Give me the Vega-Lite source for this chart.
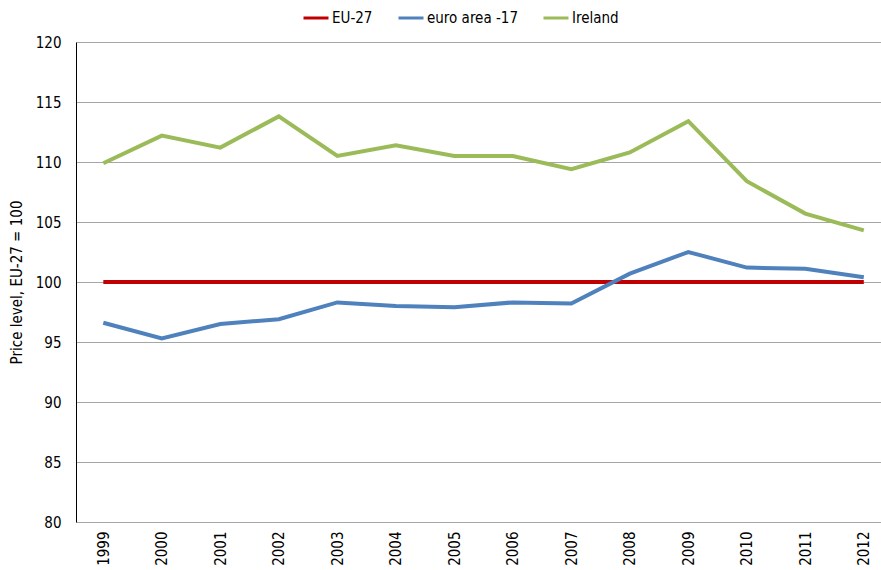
{
  "$schema": "https://vega.github.io/schema/vega-lite/v6.json",
  "width": 805,
  "height": 480,
  "autosize": {"type": "none"},
  "padding": {"left": 76, "top": 42, "right": 0, "bottom": 48},
  "background": "white",
  "config": {
    "view": {"stroke": null},
    "font": "DejaVu Sans Condensed",
    "axis": {"labelFont": "DejaVu Sans Condensed", "titleFont": "DejaVu Sans Condensed", "labelColor": "#000000", "titleColor": "#000000"},
    "legend": {"labelFont": "DejaVu Sans Condensed"}
  },
  "data": {
    "values": [
      {"year": 1999, "series": "EU-27", "value": 100},
      {"year": 2000, "series": "EU-27", "value": 100},
      {"year": 2001, "series": "EU-27", "value": 100},
      {"year": 2002, "series": "EU-27", "value": 100},
      {"year": 2003, "series": "EU-27", "value": 100},
      {"year": 2004, "series": "EU-27", "value": 100},
      {"year": 2005, "series": "EU-27", "value": 100},
      {"year": 2006, "series": "EU-27", "value": 100},
      {"year": 2007, "series": "EU-27", "value": 100},
      {"year": 2008, "series": "EU-27", "value": 100},
      {"year": 2009, "series": "EU-27", "value": 100},
      {"year": 2010, "series": "EU-27", "value": 100},
      {"year": 2011, "series": "EU-27", "value": 100},
      {"year": 2012, "series": "EU-27", "value": 100},
      {"year": 1999, "series": "euro area -17", "value": 96.6},
      {"year": 2000, "series": "euro area -17", "value": 95.3},
      {"year": 2001, "series": "euro area -17", "value": 96.5},
      {"year": 2002, "series": "euro area -17", "value": 96.9},
      {"year": 2003, "series": "euro area -17", "value": 98.3},
      {"year": 2004, "series": "euro area -17", "value": 98.0},
      {"year": 2005, "series": "euro area -17", "value": 97.9},
      {"year": 2006, "series": "euro area -17", "value": 98.3},
      {"year": 2007, "series": "euro area -17", "value": 98.2},
      {"year": 2008, "series": "euro area -17", "value": 100.7},
      {"year": 2009, "series": "euro area -17", "value": 102.5},
      {"year": 2010, "series": "euro area -17", "value": 101.2},
      {"year": 2011, "series": "euro area -17", "value": 101.1},
      {"year": 2012, "series": "euro area -17", "value": 100.4},
      {"year": 1999, "series": "Ireland", "value": 109.9},
      {"year": 2000, "series": "Ireland", "value": 112.2},
      {"year": 2001, "series": "Ireland", "value": 111.2},
      {"year": 2002, "series": "Ireland", "value": 113.8},
      {"year": 2003, "series": "Ireland", "value": 110.5},
      {"year": 2004, "series": "Ireland", "value": 111.4},
      {"year": 2005, "series": "Ireland", "value": 110.5},
      {"year": 2006, "series": "Ireland", "value": 110.5},
      {"year": 2007, "series": "Ireland", "value": 109.4},
      {"year": 2008, "series": "Ireland", "value": 110.8},
      {"year": 2009, "series": "Ireland", "value": 113.4},
      {"year": 2010, "series": "Ireland", "value": 108.4},
      {"year": 2011, "series": "Ireland", "value": 105.7},
      {"year": 2012, "series": "Ireland", "value": 104.3}
    ]
  },
  "mark": {"type": "line", "strokeWidth": 4},
  "encoding": {
    "x": {
      "field": "year",
      "type": "quantitative",
      "scale": {"domain": [1998.533, 2012.294], "nice": false, "zero": false},
      "axis": {
        "values": [1999, 2000, 2001, 2002, 2003, 2004, 2005, 2006, 2007, 2008, 2009, 2010, 2011, 2012],
        "format": "d",
        "labelAngle": -90,
        "labelFontSize": 15,
        "labelPadding": 9,
        "ticks": false,
        "grid": false,
        "domain": false,
        "title": null,
        "labelFlush": false,
        "labelOverlap": false
      }
    },
    "y": {
      "field": "value",
      "type": "quantitative",
      "scale": {"domain": [80, 120], "nice": false, "zero": false},
      "axis": {
        "values": [80, 85, 90, 95, 100, 105, 110, 115, 120],
        "title": "Price level, EU-27 = 100",
        "titleFontSize": 15,
        "titleFontWeight": "normal",
        "titlePadding": 11,
        "labelFontSize": 15,
        "labelPadding": 15,
        "ticks": false,
        "domainColor": "#000000",
        "domainWidth": 1,
        "gridColor": "#A6A6A6",
        "gridWidth": 1,
        "labelFlush": false
      }
    },
    "color": {
      "field": "series",
      "type": "nominal",
      "scale": {"domain": ["EU-27", "euro area -17", "Ireland"], "range": ["#C00000", "#4F81BD", "#9BBB59"]},
      "legend": {
        "orient": "none",
        "legendX": 226,
        "legendY": -38,
        "direction": "horizontal",
        "title": null,
        "symbolType": "stroke",
        "symbolStrokeWidth": 3,
        "symbolSize": 625,
        "labelFontSize": 15,
        "labelOffset": 2,
        "columnPadding": 19,
        "labelColor": "#000000"
      }
    }
  }
}
